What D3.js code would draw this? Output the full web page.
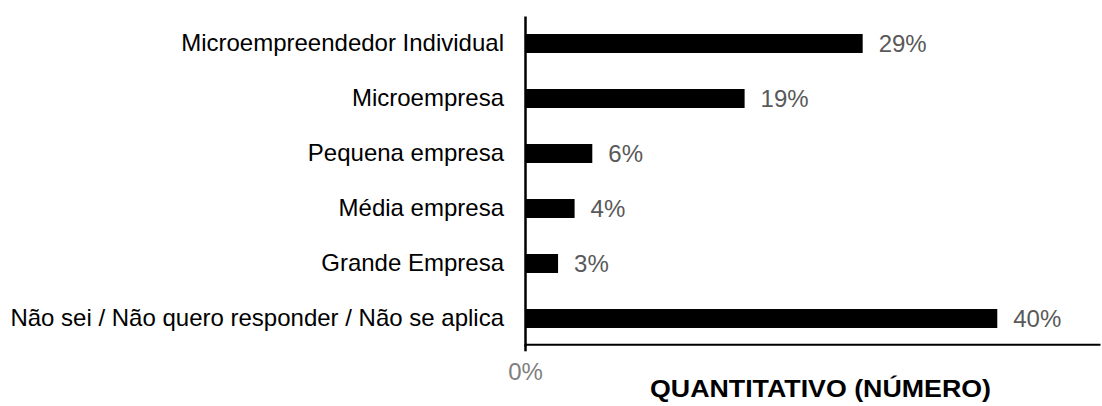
<!DOCTYPE html>
<html>
<head>
<meta charset="utf-8">
<script src="https://cdn.jsdelivr.net/npm/d3@7"></script>
<style>
  body { margin: 0; background: #fff; }
  svg { display: block; }
  text { font-family: "Liberation Sans", Arial, sans-serif; }
</style>
</head>
<body>
<svg id="chart"></svg>
<script>
var categories = [
    "Microempreendedor Individual",
    "Microempresa",
    "Pequena empresa",
    "Média empresa",
    "Grande Empresa",
    "Não sei / Não quero responder / Não se aplica"
];
var values = [28.6, 18.6, 5.7, 4.2, 2.8, 40.0];
var xTicks = [0];
var axisTitle = "QUANTITATIVO (NÚMERO)";

var width = 1102,
    height = 406;

var svg = d3.select("#chart")
    .attr("width", width)
    .attr("height", height);

var xScale = d3.scaleLinear()
    .domain([0, 48.7])
    .range([525, 1100]);

var yScale = d3.scaleBand()
    .domain(categories)
    .range([16, 346])
    .paddingInner(0.655)
    .paddingOuter(0.3275);

var data = categories.map(function(c, i) {
    return {name: c, value: values[i]};
});

// bars
svg.append("g")
    .selectAll("rect")
    .data(data)
    .enter()
    .append("rect")
    .attr("x", xScale(0) + 1)
    .attr("y", function(d) { return yScale(d.name); })
    .attr("width", function(d) { return xScale(d.value) - xScale(0) - 1; })
    .attr("height", yScale.bandwidth())
    .attr("fill", "#000");

// value labels
svg.append("g")
    .selectAll("text")
    .data(data)
    .enter()
    .append("text")
    .attr("x", function(d) { return xScale(d.value) + 16; })
    .attr("y", function(d) { return yScale(d.name) + yScale.bandwidth() / 2; })
    .attr("dy", "0.36em")
    .attr("fill", "#595959")
    .style("font-size", "24px")
    .text(function(d) { return Math.round(d.value) + "%"; });

// category axis
var yAxis = svg.append("g")
    .attr("transform", "translate(" + xScale(0) + ",0)")
    .call(d3.axisLeft(yScale).tickSize(0).tickPadding(21).tickSizeOuter(0));
yAxis.select(".domain").attr("stroke", "#000").attr("stroke-width", 2.5);
yAxis.selectAll("text")
    .attr("fill", "#000")
    .attr("dy", "0.31em")
    .style("font-size", "24px");

// value axis
var xAxis = svg.append("g")
    .attr("transform", "translate(0,344.3)")
    .call(d3.axisBottom(xScale)
        .tickValues(xTicks)
        .tickSizeInner(7)
        .tickSizeOuter(0)
        .tickPadding(12)
        .tickFormat(function(d) { return d + "%"; }));
xAxis.select(".domain").attr("stroke", "#000").attr("stroke-width", 2);
xAxis.selectAll(".tick line").attr("stroke", "#000").attr("stroke-width", 2.5);
xAxis.selectAll("text")
    .attr("fill", "#7f7f7f")
    .style("font-size", "24px");

// axis title
svg.append("text")
    .attr("x", 650)
    .attr("y", 396.5)
    .attr("textLength", 341)
    .attr("lengthAdjust", "spacingAndGlyphs")
    .style("font-size", "24px")
    .style("font-weight", "bold")
    .attr("fill", "#000")
    .text(axisTitle);
</script>
</body>
</html>
